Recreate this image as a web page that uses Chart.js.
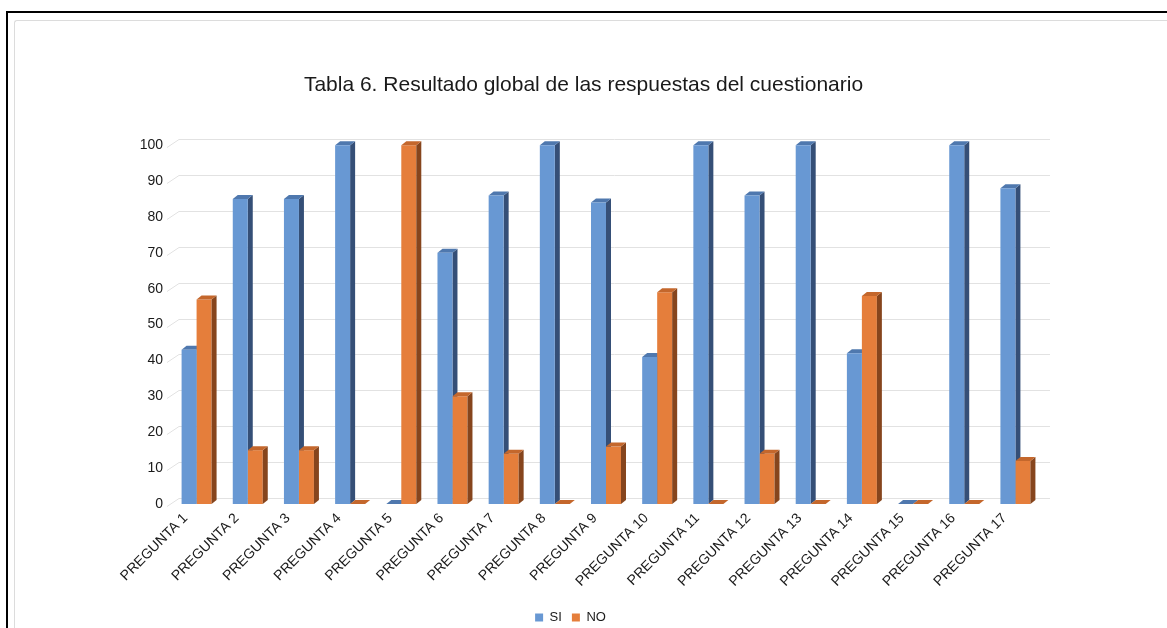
<!DOCTYPE html>
<html>
<head>
<meta charset="utf-8">
<script src="https://cdn.jsdelivr.net/npm/chart.js@4/dist/chart.umd.min.js"></script>
<style>
  html, body { margin: 0; padding: 0; background: #fff; overflow: hidden; width: 1167px; height: 628px; }
  #outer { position: absolute; left: 6px; top: 11px; width: 1200px; height: 700px; border-left: 2px solid #000; border-top: 2px solid #000; }
  #inner { position: absolute; left: 14px; top: 20px; width: 1200px; height: 700px; border-left: 1px solid #dcdcdc; border-top: 1px solid #dcdcdc; border-top-left-radius: 3px; }
  #c { position: absolute; left: 0; top: 0; }
</style>
</head>
<body>
<div id="outer"></div>
<div id="inner"></div>
<canvas id="c" width="1167" height="634"></canvas>
<script>
const categories = ["PREGUNTA 1","PREGUNTA 2","PREGUNTA 3","PREGUNTA 4","PREGUNTA 5","PREGUNTA 6","PREGUNTA 7","PREGUNTA 8","PREGUNTA 9","PREGUNTA 10","PREGUNTA 11","PREGUNTA 12","PREGUNTA 13","PREGUNTA 14","PREGUNTA 15","PREGUNTA 16","PREGUNTA 17"];
const siValues = [43, 85, 85, 100, 0, 70, 86, 100, 84, 41, 100, 86, 100, 42, 0, 100, 88];
const noValues = [57, 15, 15, 0, 100, 30, 14, 0, 16, 59, 0, 14, 0, 58, 0, 0, 12];
const yTicks = [0, 10, 20, 30, 40, 50, 60, 70, 80, 90, 100];
const titleText = "Tabla 6. Resultado global de las respuestas del cuestionario";

const faceColors = [
  { side: "#354f77", top: "#4f78ae" },
  { side: "#86451d", top: "#c4672c" }
];
const DX = 5, DY = 4;

function drawFaces(chart, index) {
  const ctx = chart.ctx;
  const meta = chart.getDatasetMeta(index);
  const col = faceColors[index];
  ctx.save();
  meta.data.forEach(bar => {
    const p = bar.getProps(["x", "y", "base", "width"], true);
    const l = p.x - p.width / 2, r = p.x + p.width / 2;
    const top = Math.min(p.y, p.base), bot = Math.max(p.y, p.base);
    if (bot - top > 0.5) {
      ctx.fillStyle = col.side;
      ctx.beginPath();
      ctx.moveTo(r, top);
      ctx.lineTo(r + DX, top - DY);
      ctx.lineTo(r + DX, bot - DY);
      ctx.lineTo(r, bot);
      ctx.closePath();
      ctx.fill();
    }
    ctx.fillStyle = col.top;
    ctx.beginPath();
    ctx.moveTo(l, top);
    ctx.lineTo(l + DX, top - DY);
    ctx.lineTo(r + DX, top - DY);
    ctx.lineTo(r, top);
    ctx.closePath();
    ctx.fill();
  });
  ctx.restore();
}

const gridPlugin = {
  id: "grid3d",
  afterLayout(chart) {
    const lg = chart.legend;
    if (lg) { lg.left -= 13; lg.right -= 13; }
  },
  beforeDatasetsDraw(chart) {
    const ctx = chart.ctx, y = chart.scales.y, area = chart.chartArea;
    ctx.save();
    ctx.strokeStyle = "#e2e2e2";
    ctx.lineWidth = 1;
    yTicks.forEach(v => {
      const py = Math.round(y.getPixelForValue(v)) + 0.5;
      ctx.beginPath();
      ctx.moveTo(area.left - 4, py + 2);
      ctx.lineTo(area.left + 8, py - 6);
      ctx.lineTo(area.right + 9, py - 6);
      ctx.stroke();
    });
    ctx.restore();
    drawFaces(chart, 0);
  },
  afterDatasetsDraw(chart) {
    drawFaces(chart, 1);
  }
};

new Chart(document.getElementById("c"), {
  type: "bar",
  data: {
    labels: categories,
    datasets: [
      { label: "SI", data: siValues, backgroundColor: "#6898d3", clip: false },
      { label: "NO", data: noValues, backgroundColor: "#e57e3b", clip: false }
    ]
  },
  options: {
    responsive: false,
    animation: false,
    devicePixelRatio: 1,
    layout: { padding: { left: 0, right: 0, top: 0, bottom: 0 } },
    datasets: { bar: { categoryPercentage: 0.586, barPercentage: 1.0 } },
    plugins: {
      title: {
        display: true,
        text: titleText,
        color: "#1a1a1a",
        font: { family: "Liberation Sans", size: 21, weight: "normal", lineHeight: 1.2 },
        padding: { top: 73, bottom: 47 }
      },
      legend: {
        display: true,
        position: "bottom",
        labels: {
          boxWidth: 8, boxHeight: 8, padding: 10,
          color: "#1a1a1a",
          font: { family: "Liberation Sans", size: 13 }
        }
      },
      tooltip: { enabled: false }
    },
    scales: {
      x: {
        grid: { display: false, drawTicks: false },
        border: { display: false },
        ticks: {
          minRotation: 45, maxRotation: 45, padding: 6, autoSkip: false, labelOffset: -11,
          color: "#1a1a1a",
          font: { family: "Liberation Sans", size: 14 }
        },
        afterFit(scale) { scale.height = 97; }
      },
      y: {
        min: 0, max: 100,
        afterBuildTicks(scale) { scale.ticks = yTicks.map(v => ({ value: v })); },
        grid: { display: false, drawTicks: false },
        border: { display: false },
        ticks: {
          padding: 8,
          color: "#1a1a1a",
          font: { family: "Liberation Sans", size: 14 }
        },
        afterFit(scale) { scale.width = 171; }
      },
      yRight: {
        position: "right",
        display: true,
        grid: { display: false, drawTicks: false },
        border: { display: false },
        ticks: { display: false },
        afterFit(scale) { scale.width = 126; }
      }
    }
  },
  plugins: [gridPlugin]
});
</script>
</body>
</html>
